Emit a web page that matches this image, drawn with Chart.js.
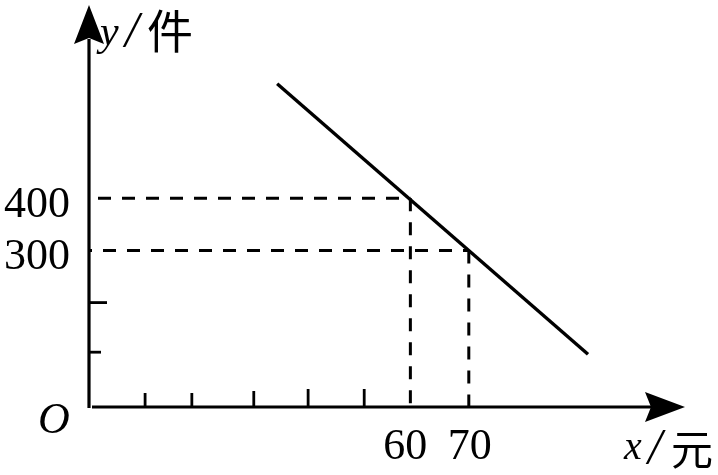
<!DOCTYPE html>
<html>
<head>
<meta charset="utf-8">
<script src="https://cdn.jsdelivr.net/npm/chart.js@4.4.1/dist/chart.umd.min.js"></script>
<style>
  html, body { margin: 0; padding: 0; background: #fff; }
  #wrap { width: 718px; height: 475px; }
</style>
</head>
<body>
<div id="wrap"><canvas id="c" width="718" height="475"></canvas></div>
<script>
// ---- data ----
const xRange = [5, 107];            // axis span (origin .. arrow tip)
const yRange = [0, 770];
const lineX = [37.2, 90.4];         // demand line x (元)
const lineY = [619, 101];           // demand line y (件)
const guideX = [60, 70];            // marked prices
const guideY = [400, 300];          // marked quantities
const xTickValues = [14.6, 22.6, 33.2, 42.5, 52.1];
const yTickValues = [105, 200];
const xTickLabels = ['60', '70'];
const yTickLabels = ['400', '300'];
const xAxisName = ['x', '/', '元'];
const yAxisName = ['y', '/', '件'];
const originLabel = 'O';

const SERIF = '"Liberation Serif", "DejaVu Serif", serif';
const CJK = '"Noto Sans CJK SC", "Noto Sans", sans-serif';

const datasets = [];
datasets.push({
  data: lineX.map((x, i) => ({ x, y: lineY[i] })),
  borderColor: '#000', borderWidth: 3.4, pointRadius: 0, showLine: true, fill: false
});
// horizontal dashed guides
guideY.forEach((y, i) => {
  datasets.push({
    data: [{ x: xRange[0], y }, { x: guideX[i], y }],
    borderColor: '#000', borderWidth: 3, borderDash: [13, 11],
    borderDashOffset: i === 0 ? 15 : 10,
    pointRadius: 0, showLine: true, fill: false
  });
});
// vertical dashed guides
guideX.forEach((x, i) => {
  datasets.push({
    data: [{ x, y: guideY[i] }, { x, y: yRange[0] }],
    borderColor: '#000', borderWidth: 3, borderDash: [13, 11],
    borderDashOffset: 0,
    pointRadius: 0, showLine: true, fill: false
  });
});

const axesPlugin = {
  id: 'axesPlugin',
  afterDraw(chart) {
    const ctx = chart.ctx;
    const xs = chart.scales.x, ys = chart.scales.y;
    const x0 = xs.getPixelForValue(xRange[0]);
    const y0 = ys.getPixelForValue(yRange[0]);
    const right = xs.getPixelForValue(xRange[1]);
    const top = ys.getPixelForValue(yRange[1]);
    ctx.save();
    ctx.strokeStyle = '#000';
    ctx.fillStyle = '#000';
    ctx.lineWidth = 3.2;
    ctx.lineCap = 'butt';
    // y axis
    ctx.beginPath();
    ctx.moveTo(x0, y0 + 1);
    ctx.lineTo(x0, top + 34);
    ctx.stroke();
    ctx.beginPath();
    ctx.moveTo(x0, top);
    ctx.lineTo(x0 - 15, top + 39);
    ctx.lineTo(x0, top + 33);
    ctx.lineTo(x0 + 15, top + 39);
    ctx.closePath();
    ctx.fill();
    // x axis
    ctx.beginPath();
    ctx.moveTo(x0 + 3, y0);
    ctx.lineTo(right - 34, y0);
    ctx.stroke();
    ctx.beginPath();
    ctx.moveTo(right, y0);
    ctx.lineTo(right - 40, y0 - 15);
    ctx.lineTo(right - 34, y0);
    ctx.lineTo(right - 40, y0 + 15);
    ctx.closePath();
    ctx.fill();
    // x ticks (upward)
    ctx.lineWidth = 2.8;
    const xTickLen = [14, 14, 16, 18, 18];
    xTickValues.forEach((v, i) => {
      const px = xs.getPixelForValue(v);
      ctx.beginPath();
      ctx.moveTo(px, y0);
      ctx.lineTo(px, y0 - xTickLen[i]);
      ctx.stroke();
    });
    // y ticks (rightward)
    const yTickLen = [12, 18];
    yTickValues.forEach((v, i) => {
      const py = ys.getPixelForValue(v);
      ctx.beginPath();
      ctx.moveTo(x0, py);
      ctx.lineTo(x0 + yTickLen[i], py);
      ctx.stroke();
    });
    // tick labels
    ctx.font = '44px ' + SERIF;
    ctx.textBaseline = 'alphabetic';
    ctx.textAlign = 'right';
    guideY.forEach((v, i) => {
      ctx.fillText(yTickLabels[i], x0 - 19, ys.getPixelForValue(v) + 19);
    });
    ctx.textAlign = 'center';
    guideX.forEach((v, i) => {
      ctx.fillText(xTickLabels[i], xs.getPixelForValue(v) + (i === 0 ? -5 : 1), y0 + 52);
    });
    // origin
    ctx.font = 'italic 44px ' + SERIF;
    ctx.textAlign = 'left';
    ctx.fillText(originLabel, x0 - 51, y0 + 26);
    // y axis name
    ctx.font = 'italic 42px ' + SERIF;
    ctx.fillText(yAxisName[0], x0 + 11, top + 40);
    ctx.font = 'italic 50px ' + SERIF;
    ctx.fillText(yAxisName[1], x0 + 36, top + 41);
    ctx.font = '46px ' + CJK;
    ctx.fillText(yAxisName[2], x0 + 58, top + 43);
    // x axis name
    ctx.font = 'italic 40px ' + SERIF;
    ctx.fillText(xAxisName[0], right - 61, y0 + 52);
    ctx.font = 'italic 50px ' + SERIF;
    ctx.fillText(xAxisName[1], right - 37, y0 + 56);
    ctx.font = '42px ' + CJK;
    ctx.fillText(xAxisName[2], right - 14, y0 + 58);
    ctx.restore();
  }
};

new Chart(document.getElementById('c'), {
  type: 'scatter',
  data: { datasets },
  options: {
    responsive: false,
    animation: false,
    events: [],
    layout: { padding: { left: 89, right: 33, top: 5, bottom: 68 } },
    plugins: { legend: { display: false }, tooltip: { enabled: false } },
    scales: {
      x: { type: 'linear', min: xRange[0], max: xRange[1], display: false },
      y: { type: 'linear', min: yRange[0], max: yRange[1], display: false }
    },
    elements: { line: { tension: 0, borderCapStyle: 'butt' } }
  },
  plugins: [axesPlugin]
});
</script>
</body>
</html>
